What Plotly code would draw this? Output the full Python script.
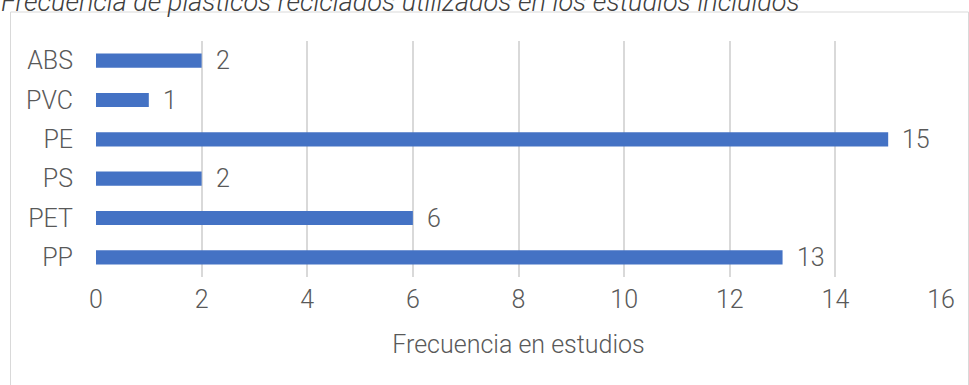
import plotly.graph_objects as go

categories = ["PP", "PET", "PS", "PE", "PVC", "ABS"]
values = [13, 6, 2, 15, 1, 2]
x_ticks = [0, 2, 4, 6, 8, 10, 12, 14, 16]

W, H = 969, 385
L, R, T, B = 96, 28, 41.4, 108.4
pw, ph = W - L - R, H - T - B

def px_x(p):
    return (p - L) / pw

def px_y(p):
    return 1 - (p - T) / ph

FONT = "Roboto"
TXT = "#595959"
FS = 25

fig = go.Figure()
fig.add_trace(go.Bar(
    x=values, y=categories, orientation="h",
    marker=dict(color="#4472C4", line=dict(width=0)),
    width=0.36, hoverinfo="skip",
))

for c, v in zip(categories, values):
    fig.add_annotation(x=v, y=c, xref="x", yref="y", text=str(v),
                       showarrow=False, xanchor="left", xshift=12,
                       font=dict(family=FONT, size=FS, color=TXT, weight=300))

fig.add_annotation(x=px_x(-1), y=px_y(3), xref="paper", yref="paper",
                   text="<i>Frecuencia de plásticos reciclados utilizados en los estudios incluidos</i>",
                   showarrow=False, xanchor="left", yanchor="middle",
                   font=dict(family=FONT, size=27, color="#404040", weight=300))

fig.add_shape(type="rect", xref="paper", yref="paper",
              x0=px_x(10.5), x1=px_x(968.5), y0=px_y(395), y1=px_y(12.5),
              line=dict(color="#d9d9d9", width=1), fillcolor="rgba(0,0,0,0)", layer="below")

fig.update_layout(
    width=W, height=H,
    margin=dict(l=L, r=R, t=T, b=B),
    paper_bgcolor="white", plot_bgcolor="white",
    showlegend=False,
    font=dict(family=FONT, size=FS, color=TXT, weight=300),
    xaxis=dict(range=[0, 16], tickvals=x_ticks, showgrid=True, gridcolor="#d9d9d9",
               gridwidth=1.5, zeroline=False, showline=False, ticks="",
               ticklabelstandoff=5,
               tickfont=dict(family=FONT, size=FS, color=TXT, weight=300),
               title=dict(text="Frecuencia en estudios", standoff=22,
                          font=dict(family=FONT, size=FS, color=TXT, weight=300))),
    yaxis=dict(range=[-0.5, 5.5], categoryorder="array", categoryarray=categories,
               showgrid=False, zeroline=False, showline=False, ticks="",
               ticklabelstandoff=22,
               tickfont=dict(family=FONT, size=FS, color=TXT, weight=300)),
)

fig.write_html("out.html")
